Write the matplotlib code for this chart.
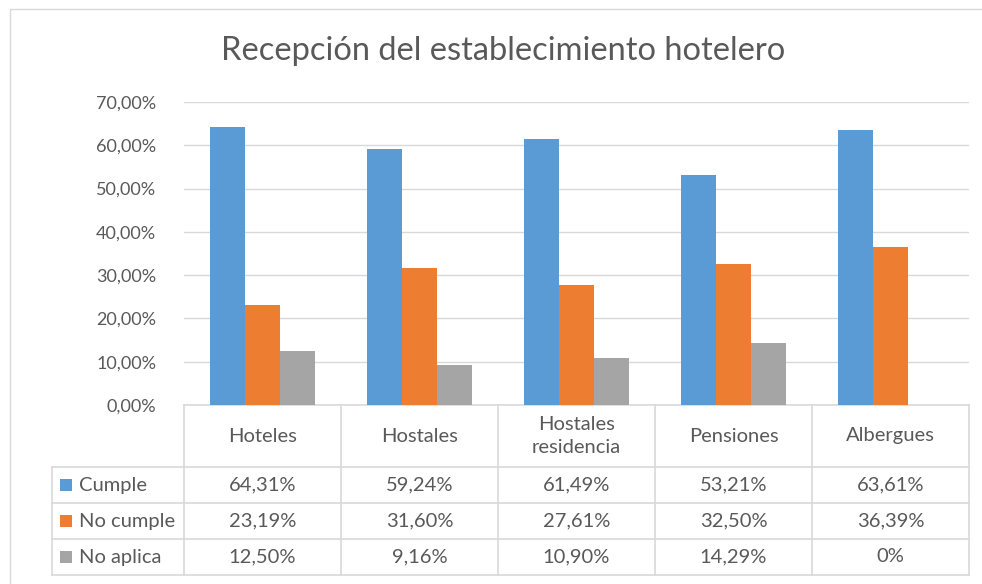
import matplotlib.pyplot as plt
from matplotlib.patches import Rectangle
from matplotlib.ticker import FuncFormatter
import numpy as np

plt.rcParams['font.family'] = ['Lato', 'DejaVu Sans']

categories = ["Hoteles", "Hostales", "Hostales\nresidencia", "Pensiones", "Albergues"]
series = ["Cumple", "No cumple", "No aplica"]
cumple = [64.31, 59.24, 61.49, 53.21, 63.61]
no_cumple = [23.19, 31.60, 27.61, 32.50, 36.39]
no_aplica = [12.50, 9.16, 10.90, 14.29, 0.0]
labels = [
    ["64,31%", "59,24%", "61,49%", "53,21%", "63,61%"],
    ["23,19%", "31,60%", "27,61%", "32,50%", "36,39%"],
    ["12,50%", "9,16%", "10,90%", "14,29%", "0%"],
]
colors = ["#5B9BD5", "#ED7D31", "#A5A5A5"]
text_c = "#595959"
line_c = "#D9D9D9"

W, H = 982, 584
fig = plt.figure(figsize=(W / 100, H / 100), dpi=100)

# outer chart border (runs off the right and bottom edges)
fig.patches.append(Rectangle((10 / W, -10 / H), 990 / W, 585 / H, transform=fig.transFigure,
                             fill=False, edgecolor=line_c, lw=1))

ax = fig.add_axes([184 / W, (H - 405) / H, 785 / W, 303 / H])
x = np.arange(len(categories))
bw = 0.222
for i, vals in enumerate([cumple, no_cumple, no_aplica]):
    ax.bar(x + (i - 1) * bw, vals, bw, color=colors[i], zorder=3)

ax.set_xlim(-0.5, len(categories) - 0.5)
ax.set_ylim(0, 70)
ax.set_yticks(np.arange(0, 71, 10))
ax.yaxis.set_major_formatter(FuncFormatter(lambda v, p: f"{v:.2f}%".replace(".", ",")))
ax.tick_params(axis='y', length=0, pad=20, labelsize=13, labelcolor=text_c)
ax.set_xticks([])
ax.grid(axis='y', color=line_c, lw=1, zorder=0)
for s in ax.spines.values():
    s.set_visible(False)

fig.text(503 / W, (H - 51) / H, "Recepción del establecimiento hotelero",
         ha='center', va='center', fontsize=23.5, color=text_c)

# data table below the axis
tr = ax.get_xaxis_transform()
px = 1 / 303
rows_y = [0, -62 * px, -98 * px, -134 * px, -170 * px]
xl = -1.341
xr = len(categories) - 0.5
kw = dict(transform=tr, clip_on=False, color=line_c, lw=1.2)
ax.plot([-0.5, xr], [rows_y[0]] * 2, **kw)
for yy in rows_y[1:]:
    ax.plot([xl, xr], [yy, yy], **kw)
for xx in np.arange(-0.5, len(categories), 1.0):
    ax.plot([xx, xx], [rows_y[0], rows_y[-1]], **kw)
ax.plot([xl, xl], [rows_y[1], rows_y[-1]], **kw)

fs = 14.5
for j, cat in enumerate(categories):
    ax.text(j, (rows_y[0] + rows_y[1]) / 2, cat, transform=tr, ha='center', va='center',
            fontsize=fs, color=text_c, linespacing=1.45)
for i, name in enumerate(series):
    yc = (rows_y[i + 1] + rows_y[i + 2]) / 2
    ax.add_patch(Rectangle((xl + 8 / 157, yc - 6 * px), 12 / 157, 12 * px, transform=tr,
                           clip_on=False, facecolor=colors[i], edgecolor='none'))
    ax.text(xl + 27 / 157, yc, name, transform=tr, ha='left', va='center',
            fontsize=fs, color=text_c)
    for j in range(len(categories)):
        ax.text(j, yc, labels[i][j], transform=tr, ha='center', va='center',
                fontsize=fs, color=text_c)

fig.savefig("out.png", dpi=100)
